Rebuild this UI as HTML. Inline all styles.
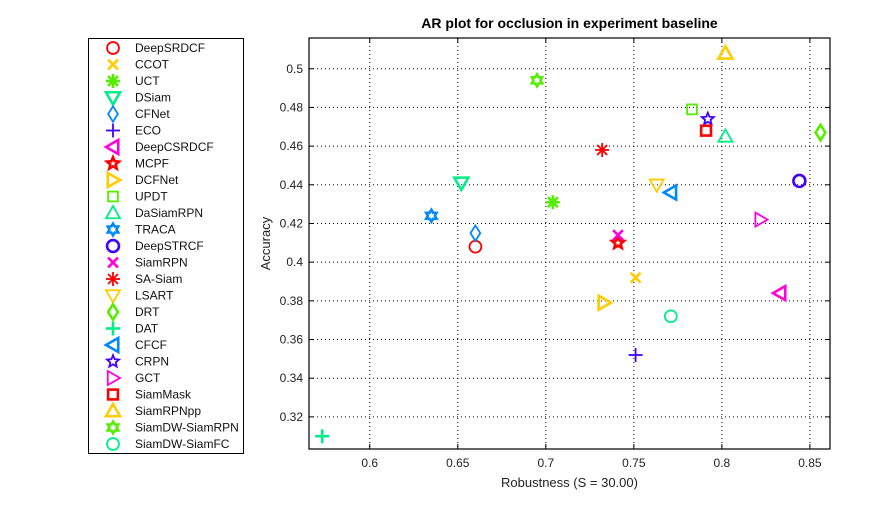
<!DOCTYPE html>
<html><head><meta charset="utf-8"><style>
body{margin:0;background:#fff;}
svg text{font-family:"Liberation Sans",Arial,sans-serif;}
</style></head><body>
<svg id="c" width="893" height="504" xmlns="http://www.w3.org/2000/svg"></svg>
<script>
const names=["DeepSRDCF","CCOT","UCT","DSiam","CFNet","ECO","DeepCSRDCF","MCPF","DCFNet","UPDT","DaSiamRPN","TRACA","DeepSTRCF","SiamRPN","SA-Siam","LSART","DRT","DAT","CFCF","CRPN","GCT","SiamMask","SiamRPNpp","SiamDW-SiamRPN","SiamDW-SiamFC"];
const robustness=[0.660,0.751,0.704,0.652,0.660,0.751,0.833,0.741,0.733,0.783,0.802,0.635,0.844,0.741,0.732,0.763,0.856,0.573,0.771,0.792,0.822,0.791,0.802,0.695,0.771];
const accuracy=[0.408,0.392,0.431,0.441,0.415,0.352,0.384,0.410,0.379,0.479,0.465,0.424,0.442,0.414,0.458,0.440,0.467,0.310,0.436,0.474,0.422,0.468,0.508,0.494,0.372];
const markers=["circle","x","asterisk","tridown","diamond","plus","trileft","pentagram","triright","square","triup","hexagram","circle","x","asterisk","tridown","diamond","plus","trileft","pentagram","triright","square","triup","hexagram","circle"];
const colors=["#ff0000","#ffcc00","#55ee00","#00ee88","#0088ff","#4400ff","#ff00dd","#ff0000","#ffcc00","#55ee00","#00ee88","#0088ff","#4400ff","#ff00dd","#ff0000","#ffcc00","#55ee00","#00ee88","#0088ff","#4400ff","#ff00dd","#ff0000","#ffcc00","#55ee00","#00ee88"];
const thick=[false,true,true,true,false,false,true,true,true,false,false,true,true,true,false,false,true,true,true,false,false,true,true,true,false];
const xTicks=[0.6,0.65,0.7,0.75,0.8,0.85];
const yTicks=[0.32,0.34,0.36,0.38,0.4,0.42,0.44,0.46,0.48,0.5];
const xLabels=["0.6","0.65","0.7","0.75","0.8","0.85"];
const yLabels=["0.32","0.34","0.36","0.38","0.4","0.42","0.44","0.46","0.48","0.5"];
const L=309,R=830,T=38,B=449;
const xMin=0.5655,xMax=0.8614,yMin=0.3034,yMax=0.5159;
const sx=v=>L+(v-xMin)/(xMax-xMin)*(R-L);
const sy=v=>B-(v-yMin)/(yMax-yMin)*(B-T);
const svg=document.getElementById('c');
const NS="http://www.w3.org/2000/svg";
function mk(tag,attrs,parent){const e=document.createElementNS(NS,tag);for(const k in attrs)e.setAttribute(k,attrs[k]);(parent||svg).appendChild(e);return e;}
xTicks.forEach((t,i)=>{
  const g=mk('line',{x1:sx(t),x2:sx(t),y1:T,y2:B,stroke:'#000','stroke-width':1,'stroke-dasharray':'1,3'});
  
  
  mk('line',{x1:sx(t),x2:sx(t),y1:B,y2:B-5,stroke:'#000'});
  mk('line',{x1:sx(t),x2:sx(t),y1:T,y2:T+5,stroke:'#000'});
  const tx=mk('text',{x:sx(t),y:B+18,'font-size':12,'text-anchor':'middle',fill:'#222'});tx.textContent=xLabels[i];
  
  
});
yTicks.forEach((t,i)=>{
  const g=mk('line',{x1:L,x2:R,y1:sy(t),y2:sy(t),stroke:'#000','stroke-width':1,'stroke-dasharray':'1,3'});
  
  
  mk('line',{x1:L,x2:L+5,y1:sy(t),y2:sy(t),stroke:'#000'});
  mk('line',{x1:R,x2:R-5,y1:sy(t),y2:sy(t),stroke:'#000'});
  const tx=mk('text',{x:L-6,y:sy(t)+4,'font-size':12,'text-anchor':'end',fill:'#222'});tx.textContent=yLabels[i];
  
  
});
const box=mk('rect',{x:L,y:T,width:R-L,height:B-T,fill:'none',stroke:'#000','stroke-width':1.2});


const title=mk('text',{x:(L+R)/2,y:28,'font-size':14,'font-weight':'bold','text-anchor':'middle'});title.textContent="AR plot for occlusion in experiment baseline";


const xt=mk('text',{x:(L+R)/2,y:487,'font-size':13,'text-anchor':'middle',fill:'#222'});xt.textContent="Robustness (S = 30.00)";


const yt=mk('text',{x:270,y:(T+B)/2,'font-size':13,'text-anchor':'middle',fill:'#222',transform:`rotate(-90 270 ${(T+B)/2})`});yt.textContent="Accuracy";


function star(cx,cy,n,ro,ri,rot){let p=[];for(let i=0;i<2*n;i++){const r=i%2?ri:ro;const a=rot+i*Math.PI/n;p.push((cx+r*Math.sin(a)).toFixed(1)+','+(cy-r*Math.cos(a)).toFixed(1));}return p.join(' ');}
function marker(type,cx,cy,col,w,s){
  const g=mk('g',{fill:'none',stroke:col,'stroke-width':w});
  const r=s;
  if(type==='circle')mk('circle',{cx,cy,r:r*0.85},g);
  else if(type==='x'){mk('line',{x1:cx-r*0.7,y1:cy-r*0.7,x2:cx+r*0.7,y2:cy+r*0.7},g);mk('line',{x1:cx-r*0.7,y1:cy+r*0.7,x2:cx+r*0.7,y2:cy-r*0.7},g);}
  else if(type==='plus'){mk('line',{x1:cx-r,y1:cy,x2:cx+r,y2:cy},g);mk('line',{x1:cx,y1:cy-r,x2:cx,y2:cy+r},g);}
  else if(type==='asterisk'){for(let k=0;k<4;k++){const a=k*Math.PI/4;mk('line',{x1:cx-r*Math.cos(a),y1:cy-r*Math.sin(a),x2:cx+r*Math.cos(a),y2:cy+r*Math.sin(a)},g);}}
  else if(type==='square')mk('rect',{x:cx-r*0.7,y:cy-r*0.7,width:r*1.4,height:r*1.4},g);
  else if(type==='diamond')mk('polygon',{points:`${cx},${cy-r*1.1} ${cx+r*0.7},${cy} ${cx},${cy+r*1.1} ${cx-r*0.7},${cy}`},g);
  else if(type==='triup')mk('polygon',{points:`${cx},${cy-r} ${cx+r},${cy+r*0.75} ${cx-r},${cy+r*0.75}`},g);
  else if(type==='tridown')mk('polygon',{points:`${cx},${cy+r} ${cx+r},${cy-r*0.75} ${cx-r},${cy-r*0.75}`},g);
  else if(type==='trileft')mk('polygon',{points:`${cx-r},${cy} ${cx+r*0.75},${cy-r} ${cx+r*0.75},${cy+r}`},g);
  else if(type==='triright')mk('polygon',{points:`${cx+r},${cy} ${cx-r*0.75},${cy-r} ${cx-r*0.75},${cy+r}`},g);
  else if(type==='pentagram')mk('polygon',{points:star(cx,cy,5,r*0.9,r*0.4,0)},g);
  else if(type==='hexagram')mk('polygon',{points:star(cx,cy,6,r*0.85,r*0.5,0)},g);
  return g;
}
names.forEach((n,i)=>{
  const g=marker(markers[i],sx(robustness[i]),sy(accuracy[i]),colors[i],thick[i]?2.6:1.8,7);
  
  
});
const lg=mk('g',{});


mk('rect',{x:88.5,y:38.5,width:155,height:415,fill:'#fff',stroke:'#000','stroke-width':1},lg);
names.forEach((n,i)=>{
  const y=48+i*16.5;
  const m=marker(markers[i],113,y,colors[i],thick[i]?2.6:1.8,7);
  lg.appendChild(m);
  const t=mk('text',{x:135,y:y+4,'font-size':12,fill:'#111'},lg);t.textContent=n;
  
  
});
</script>
</body></html>
